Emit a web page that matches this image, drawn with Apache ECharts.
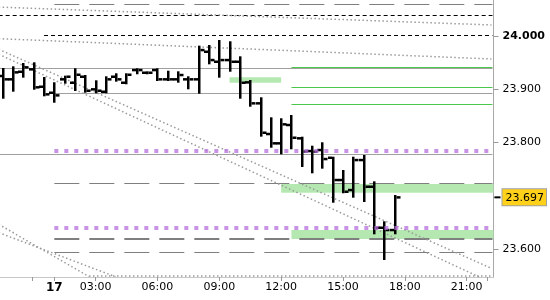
<!DOCTYPE html>
<html><head><meta charset="utf-8">
<script src="https://cdn.jsdelivr.net/npm/echarts@6/dist/echarts.min.js"></script>
<style>html,body{margin:0;padding:0;background:#fff}#c{width:550px;height:300px}</style>
</head><body><div id="c"></div>
<script>
// ---- data ----
const barTimes = ['22:30','23:00','23:30','00:00','00:30','01:00','01:30','02:00','02:30','03:00',
  '03:30','04:00','04:30','05:00','05:30','06:00','06:30','07:00','07:30','08:00',
  '08:30','09:00','09:30','10:00','10:30','11:00','11:30','12:00','12:30','13:00',
  '13:30','14:00','14:30','15:00','15:30','16:00','16:30','17:00','17:30'];
const openVals = [23.925,23.9187,23.9329,23.9375,23.9048,23.8935,23.9187,23.9123,23.9236,23.8999,
  23.8954,23.9236,23.9123,23.9361,23.9311,23.9361,23.9187,23.9187,23.9187,23.9187,
  23.9705,23.9517,23.9549,23.9517,23.913,23.8736,23.816,23.7985,23.8329,23.8079,
  23.784,23.7859,23.7714,23.7296,23.7108,23.7671,23.717,23.64,23.6357];
const highVals = [23.938,23.9412,23.9474,23.9487,23.9211,23.9112,23.9236,23.9375,23.9249,23.9149,
  23.9224,23.9281,23.9281,23.9375,23.9318,23.9375,23.9329,23.9318,23.9224,23.98,
  23.9812,23.9906,23.9882,23.96,23.9155,23.883,23.8454,23.8436,23.8498,23.809,
  23.7921,23.7985,23.7714,23.7465,23.7714,23.7746,23.7252,23.6501,23.6995];
const lowVals = [23.8841,23.8973,23.9236,23.901,23.8886,23.8766,23.9123,23.8986,23.8954,23.8943,
  23.8943,23.9161,23.9112,23.93,23.93,23.9174,23.9174,23.9142,23.9018,23.8935,
  23.9487,23.9236,23.9348,23.8841,23.8691,23.8128,23.7921,23.7797,23.7891,23.7559,
  23.744,23.7527,23.6888,23.7065,23.6982,23.6901,23.6295,23.5812,23.6295];
const closeVals = [23.9187,23.9318,23.9412,23.9037,23.8905,23.8886,23.9236,23.9273,23.8973,23.8973,
  23.9187,23.9187,23.9273,23.9361,23.9311,23.9187,23.9187,23.9268,23.9187,23.9737,
  23.9549,23.9549,23.9517,23.9123,23.8736,23.8184,23.7985,23.8342,23.809,23.783,
  23.7827,23.769,23.7296,23.7076,23.7671,23.717,23.64,23.6357,23.697];
const currentPrice = 23.697;

const xLabelHours = [1,3,6,9,12,15,18,21];
const xTickHours = [-0.09,1,3,6,9,12,15,18,21,22];
const dayLabel = '17';
const yLabelValues = [23.6, 23.8, 23.9, 24.0];

const xMin = -1.635, xMax = 22.3, yMin = 23.5474, yMax = 24.0676;

// levels: [value, startHour]
const graySolidLevels = [[23.9393,-1.7],[23.8924,1],[23.7778,-1.7]];
const grayDashLevels = [[24.0595,1],[23.7234,1],[23.5938,1]];
const grayDashBoldLevels = [[23.6188,1]];
const blackDashLevels = [[24.0376,-1.7],[24.0,0.5]];
const greenLevels = [[23.9412,12.5],[23.9037,12.5],[23.8717,12.5]];
const purpleLevels = [[23.784,1],[23.640,1]];
// zones: [top, bottom, startHour, endHour]
const zones = [[23.9224,23.9123,9.5,12.0],[23.7221,23.7057,12.0,22.3],[23.6357,23.6188,12.5,22.3]];
// dotted trend lines: [[h1,v1],[h2,v2]]
const trendLines = [
  [[-1.7,24.0543],[22.2,24.0207]],
  [[-1.7,23.9950],[22.2,23.9568]],
  [[-1.7,23.9750],[22.2,23.5637]],
  [[-1.7,23.9658],[21.6,23.5476]],
  [[-1.7,23.6465],[2.68,23.5480]],
  [[-1.7,23.6308],[3.96,23.5480]],
  [[2.68,23.5493],[22.2,23.5493]]
];

// ---- build ----
function toHour(s){const [h,m]=s.split(':').map(Number);let v=h+m/60;if(h>=20)v-=24;return v;}
const ohlc = barTimes.map((t,i)=>[toHour(t),openVals[i],highVals[i],lowVals[i],closeVals[i]]);
const END = 22.25;

const levelStyles = [
  {stroke:'#a0a0a0',lineWidth:1},
  {stroke:'#7f7f7f',lineWidth:1,lineDash:[25,10]},
  {stroke:'#7f7f7f',lineWidth:2,lineDash:[25,10]},
  {stroke:'#000',lineWidth:1,lineDash:[4,3]},
  {stroke:'#4cc94c',lineWidth:1},
];
const levelRows = [].concat(
  graySolidLevels.map(([v,s])=>[s,v,0]),
  grayDashLevels.map(([v,s])=>[s,v,1]),
  grayDashBoldLevels.map(([v,s])=>[s,v,2]),
  blackDashLevels.map(([v,s])=>[s,v,3]),
  greenLevels.map(([v,s])=>[s,v,4])
);
const purpleRows = purpleLevels.map(([v,s])=>[s,v]);

const series = [];
series.push({type:'custom',z:1,silent:true,animation:false,clip:true,
  data:zones.map(z=>[z[2],z[0],z[3],z[1]]),
  renderItem(p,api){
    const a=api.coord([api.value(0),api.value(1)]), b=api.coord([api.value(2),api.value(3)]);
    return {type:'rect',shape:{x:a[0],y:a[1],width:b[0]-a[0],height:b[1]-a[1]},style:{fill:'#b4e8b0'}};
  }
});
series.push({type:'custom',z:2,silent:true,animation:false,clip:true,
  data:levelRows,
  renderItem(p,api){
    const a=api.coord([api.value(0),api.value(1)]), b=api.coord([END,api.value(1)]);
    const st=levelStyles[api.value(2)];
    const y = st.lineWidth%2===1 ? Math.round(a[1]-0.5)+0.5 : Math.round(a[1]);
    return {type:'line',shape:{x1:a[0],y1:y,x2:b[0],y2:y},style:Object.assign({fill:null},st)};
  }
});
trendLines.forEach(seg=>series.push({type:'line',data:seg,symbol:'none',silent:true,z:3,
  lineStyle:{color:'#9a9a9a',width:1.5,type:[1.5,2.5]},animation:false}));

series.push({type:'custom',z:5,silent:true,animation:false,clip:true,
  data:ohlc,
  renderItem(p,api){
    const x=api.value(0);
    const pH=api.coord([x,api.value(2)]), pL=api.coord([x,api.value(3)]);
    const pO=api.coord([x,api.value(1)]), pC=api.coord([x,api.value(4)]);
    const cx=Math.round(pH[0]);
    return {type:'group',children:[
      {type:'rect',shape:{x:cx-1,y:pH[1]-1,width:2.5,height:Math.max(2,pL[1]-pH[1]+2)},style:{fill:'#000'}},
      {type:'rect',shape:{x:cx-5,y:pO[1]-1.2,width:4,height:2.5},style:{fill:'#000'}},
      {type:'rect',shape:{x:cx+1.5,y:pC[1]-1.2,width:4,height:2.5},style:{fill:'#000'}}
    ]};
  }
});

series.push({type:'custom',z:8,silent:true,animation:false,clip:true,
  data:purpleRows,
  renderItem(p,api){
    const a=api.coord([api.value(0),api.value(1)]), b=api.coord([END,api.value(1)]);
    const y=Math.round(a[1]);
    return {type:'line',shape:{x1:a[0],y1:y,x2:b[0],y2:y},
      style:{stroke:'#b56fdc',opacity:0.75,lineWidth:4,lineDash:[4,6],fill:null}};
  }
});

series.push({type:'custom',z:9,silent:true,animation:false,clip:false,
  data:[[xMax,currentPrice]],
  renderItem(p,api){
    const a=api.coord([api.value(0),api.value(1)]);
    return {type:'line',shape:{x1:a[0]+1,y1:a[1],x2:a[0]+7,y2:a[1]},style:{stroke:'#000',lineWidth:2}};
  }
});

const chart = echarts.init(document.getElementById('c'),null,{renderer:'canvas'});
chart.setOption({
  animation:false,
  backgroundColor:'#fff',
  textStyle:{fontFamily:'DejaVu Sans'},
  grid:{left:0,right:51,top:0,bottom:23,containLabel:false,show:false},
  xAxis:{type:'value',min:xMin,max:xMax,
    axisLine:{show:true,onZero:false,lineStyle:{color:'#c8c8c8',width:1}},
    axisTick:{show:true,length:4,customValues:xTickHours,lineStyle:{color:'#999'}},
    splitLine:{show:false},minorSplitLine:{show:false},splitArea:{show:false},
    axisLabel:{customValues:xLabelHours,margin:5,color:'#000',fontSize:11,fontFamily:'DejaVu Sans',
      formatter:v=>v===1?'{b|'+dayLabel+'}':(String(v).padStart(2,'0')+':00'),
      rich:{b:{fontWeight:'bold',fontSize:12,fontFamily:'DejaVu Sans',color:'#000'}}}
  },
  yAxis:{type:'value',position:'right',min:yMin,max:yMax,scale:true,
    axisLine:{show:true,onZero:false,lineStyle:{color:'#a8a8a8',width:1}},
    axisTick:{show:true,length:5,customValues:yLabelValues.concat([currentPrice]),lineStyle:{color:'#999'}},
    splitLine:{show:false},minorSplitLine:{show:false},splitArea:{show:false},
    axisLabel:{customValues:yLabelValues.concat([currentPrice]),margin:9,color:'#000',fontSize:11,fontFamily:'DejaVu Sans',
      formatter:v=>{
        if(Math.abs(v-currentPrice)<1e-6) return '{cur|'+v.toFixed(3)+'}';
        if(Math.abs(v-24)<1e-6) return '{b|'+v.toFixed(3)+'}';
        return v.toFixed(3);
      },
      rich:{
        b:{fontWeight:'bold',fontSize:11,fontFamily:'DejaVu Sans',color:'#000'},
        cur:{fontSize:11,fontFamily:'DejaVu Sans',color:'#000',backgroundColor:'#ffd11a',
          borderColor:'#a0a0a0',borderWidth:1,padding:[3,2,2,3]}
      }}
  },
  series
});
</script></body></html>
